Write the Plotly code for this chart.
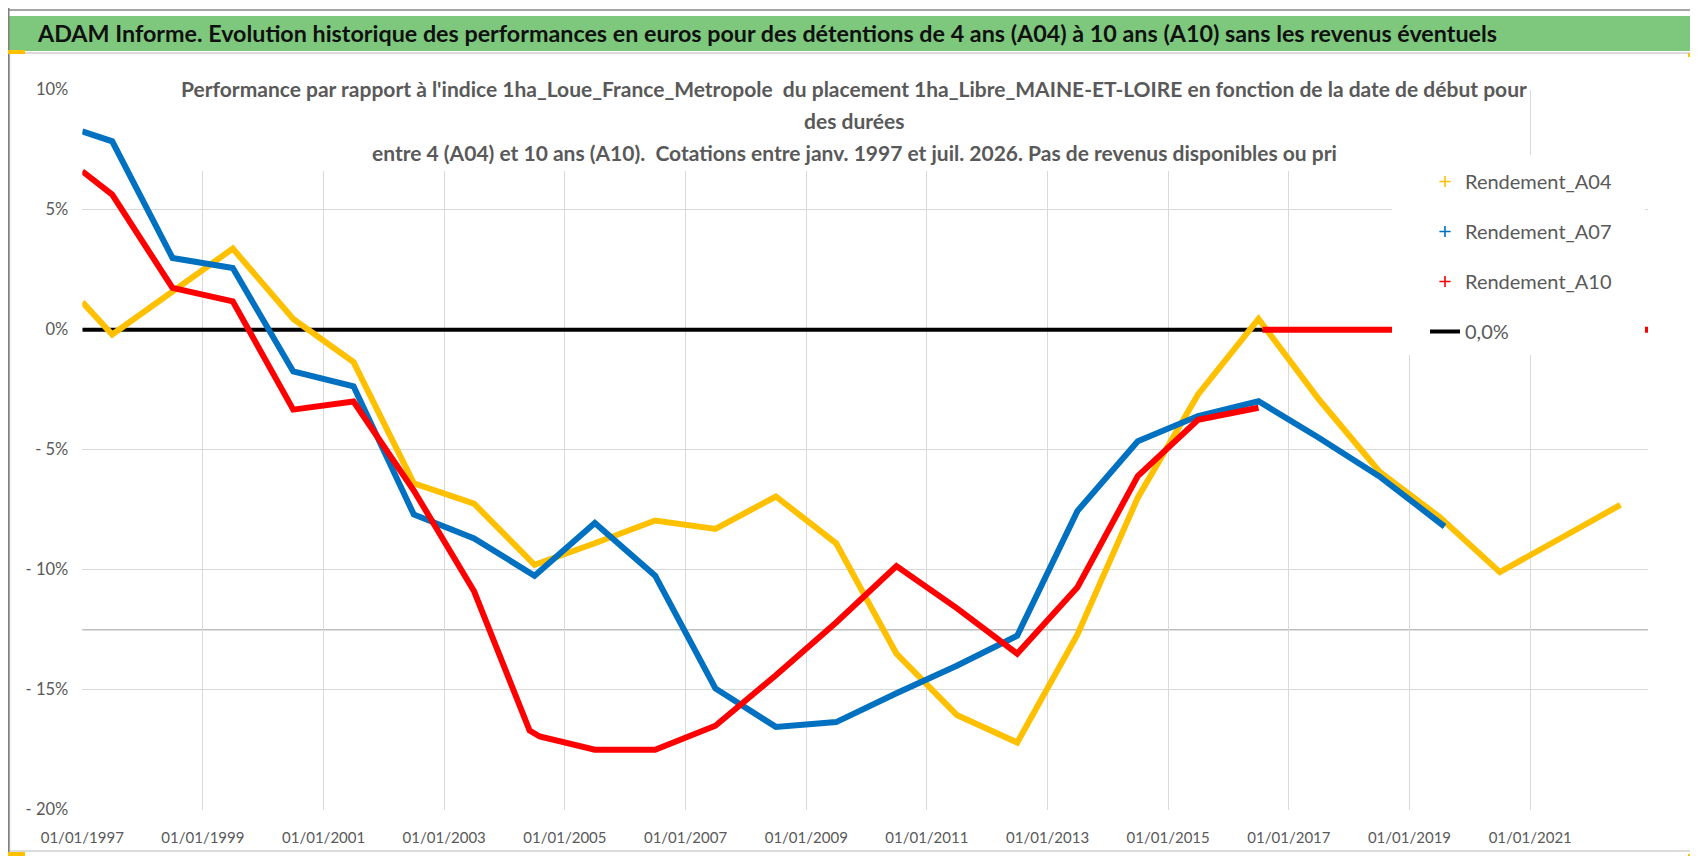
import plotly.graph_objects as go

# Rendement sur 4 ans (A04), en %
dates_a04 = ['1997-01-01', '1997-07-01', '1999-07-01', '2000-07-01', '2001-07-01', '2002-07-01',
             '2003-07-01', '2004-07-01', '2005-07-01', '2006-07-01', '2007-07-01', '2008-07-01',
             '2009-07-01', '2010-07-01', '2011-07-01', '2012-07-01', '2013-07-01', '2014-07-01',
             '2015-07-01', '2016-07-01', '2017-07-01', '2018-07-01', '2019-07-01', '2020-07-01',
             '2021-07-01', '2022-07-01']
rendement_a04 = [1.15, -0.2, 3.38, 0.45, -1.35, -6.4,
                 -7.25, -9.8, -8.9, -7.95, -8.3, -6.95,
                 -8.9, -13.5, -16.05, -17.2, -12.7, -7.0,
                 -2.7, 0.45, -2.9, -5.9, -7.8, -10.1,
                 -8.7, -7.3]

# Rendement sur 7 ans (A07)
dates_a07 = ['1997-01-01', '1997-07-01', '1998-07-01', '1999-07-01', '2000-07-01', '2001-07-01',
             '2002-07-01', '2003-07-01', '2004-07-01', '2005-07-01', '2006-07-01', '2007-07-01',
             '2008-07-01', '2009-07-01', '2010-07-01', '2011-07-01', '2012-07-01', '2013-07-01',
             '2014-07-01', '2015-07-01', '2016-07-01', '2017-07-01', '2018-07-01', '2019-08-01']
rendement_a07 = [8.26, 7.85, 2.99, 2.57, -1.74, -2.36,
                 -7.7, -8.7, -10.25, -8.05, -10.25, -14.95,
                 -16.55, -16.35, -15.15, -14.0, -12.75, -7.55,
                 -4.65, -3.6, -2.98, -4.5, -6.1, -8.2]

# Rendement sur 10 ans (A10) : valeurs nulles apres mi-2016
dates_a10 = ['1997-01-01', '1997-07-01', '1998-07-01', '1999-07-01', '2000-07-01', '2001-07-01',
             '2002-07-01', '2003-07-01', '2004-06-01', '2004-08-01', '2005-07-01', '2006-07-01',
             '2007-07-01', '2008-07-01', '2009-07-01', '2010-07-01', '2011-07-01', '2012-07-01',
             '2013-07-01', '2014-07-01', '2015-07-01', '2016-07-01', '2016-07-15', '2016-07-25',
             '2022-12-15']
rendement_a10 = [6.6, 5.63, 1.74, 1.18, -3.33, -2.99,
                 -6.7, -10.9, -16.7, -16.95, -17.5, -17.5,
                 -16.5, -14.4, -12.2, -9.85, -11.6, -13.5,
                 -10.73, -6.1, -3.75, -3.25, None, 0.0,
                 0.0]

# Ligne de reference 0,0%
dates_zero = ['1997-01-01', '2022-12-15']
niveau_zero = [0.0, 0.0]

noms = ['Rendement_A04', 'Rendement_A07', 'Rendement_A10']
couleurs = ['#FFC000', '#0070C0', '#FF0000']

y_ticks = [10, 5, 0, -5, -10, -15, -20]
y_labels = ['10%', '5%', '0%', '- 5%', '- 10%', '- 15%', '- 20%']

titre = ("ADAM Informe. Evolution historique des performances en euros pour des détentions "
         "de 4 ans (A04) à 10 ans (A10) sans les revenus éventuels")
sous_titre = ["Performance par rapport à l'indice 1ha_Loue_France_Metropole  du placement "
              "1ha_Libre_MAINE-ET-LOIRE en fonction de la date de début pour",
              "des durées",
              "entre 4 (A04) et 10 ans (A10).  Cotations entre janv. 1997 et juil. 2026. "
              "Pas de revenus disponibles ou pri"]

W, H = 1698, 856
FONT = 'Lato, Carlito, Calibri, sans-serif'
GRIS = '#595959'


def px_x(v):
    return v / W


def px_y(v):
    return 1 - v / H


fig = go.Figure()

# ligne 0% d'abord, les rendements passent par-dessus
fig.add_trace(go.Scatter(x=dates_zero, y=niveau_zero, mode='lines',
                         line=dict(color='black', width=4), showlegend=False, hoverinfo='skip'))
for dates, vals, col in zip([dates_a04, dates_a07, dates_a10],
                            [rendement_a04, rendement_a07, rendement_a10], couleurs):
    fig.add_trace(go.Scatter(x=dates, y=vals, mode='lines', connectgaps=False,
                             line=dict(color=col, width=6), showlegend=False))

# entrees de legende (croix comme dans Excel)
for nom, col in zip(noms, couleurs):
    fig.add_trace(go.Scatter(x=[None], y=[None], mode='markers', name=nom, legendgroup=nom,
                             marker=dict(symbol='cross-thin', size=8, line=dict(width=1.6, color=col))))
fig.add_trace(go.Scatter(x=[None], y=[None], mode='lines', name='0,0%', legendgroup='zero',
                         line=dict(color='black', width=4)))

x0, x1 = 74.3, 1640
y_top, y_bot = 81.7, 801.7

fig.update_layout(
    width=W, height=H,
    margin=dict(l=0, r=0, t=0, b=0, autoexpand=False),
    paper_bgcolor='white', plot_bgcolor='white',
    font=dict(family=FONT, color=GRIS),
    legend=dict(x=px_x(1417), y=px_y(154), xanchor='left', yanchor='top',
                bgcolor='white', font=dict(size=20, color=GRIS),
                tracegroupgap=21, itemwidth=30),
    xaxis=dict(type='date', domain=[px_x(x0), px_x(x1)], range=['1997-01-01', '2022-12-15'],
               tick0='1997-01-01', dtick='M24', tickformat='%d/%m/%Y', automargin=False,
               showgrid=True, gridcolor='#D9D9D9', gridwidth=1.3,
               showline=False, zeroline=False, ticks='',
               tickfont=dict(size=15, color=GRIS), ticklabelstandoff=17),
    yaxis=dict(domain=[px_y(y_bot), px_y(y_top)], range=[-20, 10], automargin=False,
               tickvals=y_ticks, ticktext=y_labels,
               showgrid=True, gridcolor='#D9D9D9', gridwidth=1.3,
               showline=False, zeroline=False, ticks='',
               tickfont=dict(size=16.5, color=GRIS), ticklabelstandoff=13),
)

shapes = [
    # bandeau vert du titre
    dict(type='rect', xref='paper', yref='paper', x0=0, x1=1, y0=px_y(43), y1=px_y(8),
         fillcolor='#7DC87D', line=dict(width=0), layer='below'),
    dict(type='line', xref='paper', yref='paper', x0=0, x1=1, y0=px_y(2), y1=px_y(2),
         line=dict(color='#A6A6A6', width=2), layer='below'),
    # cadre de la zone graphique
    dict(type='rect', xref='paper', yref='paper', x0=px_x(1.5), x1=px_x(1688), y0=px_y(843), y1=px_y(45),
         fillcolor='rgba(0,0,0,0)', line=dict(color='#D0D0D0', width=1.5), layer='below'),
    dict(type='line', xref='paper', yref='paper', x0=0, x1=0, y0=0, y1=1,
         line=dict(color='#7F7F7F', width=3), layer='below'),
    dict(type='line', xref='paper', yref='paper', x0=0, x1=1, y0=0, y1=0,
         line=dict(color='#7F7F7F', width=3), layer='below'),
    # trait gris a -12,5%
    dict(type='line', xref='x domain', yref='y', x0=0, x1=1, y0=-12.5, y1=-12.5,
         line=dict(color='#BDBDBD', width=1.6), layer='below'),
    # masque blanc sous le titre du graphique (aucune courbe ne passe ici)
    dict(type='rect', xref='paper', yref='paper', x0=px_x(185), x1=px_x(1507), y0=px_y(163), y1=px_y(62),
         fillcolor='white', line=dict(width=0), layer='above'),
    # fond blanc de la legende
    dict(type='rect', xref='paper', yref='paper', x0=px_x(1384), x1=px_x(1637), y0=px_y(347), y1=px_y(147),
         fillcolor='white', line=dict(width=0), layer='above'),
    # poignees jaunes de selection Excel
    dict(type='rect', xref='paper', yref='paper', x0=0, x1=px_x(17), y0=px_y(46), y1=px_y(42),
         fillcolor='#FFC000', line=dict(width=0)),
    dict(type='rect', xref='paper', yref='paper', x0=0, x1=px_x(17), y0=px_y(849), y1=px_y(844),
         fillcolor='#FFC000', line=dict(width=0)),
    dict(type='rect', xref='paper', yref='paper', x0=px_x(1680), x1=px_x(1697), y0=px_y(49), y1=px_y(45),
         fillcolor='#FFC000', line=dict(width=0)),
    dict(type='rect', xref='paper', yref='paper', x0=px_x(1693), x1=px_x(1697), y0=px_y(58), y1=px_y(45),
         fillcolor='#FFC000', line=dict(width=0)),
    dict(type='rect', xref='paper', yref='paper', x0=px_x(1692), x1=px_x(1697), y0=px_y(850), y1=px_y(800),
         fillcolor='#FFC000', line=dict(width=0)),
    dict(type='rect', xref='paper', yref='paper', x0=px_x(1680), x1=px_x(1697), y0=px_y(850), y1=px_y(846),
         fillcolor='#FFC000', line=dict(width=0)),
]
fig.update_layout(shapes=shapes)

annotations = [
    dict(text='<b>' + titre + '</b>', xref='paper', yref='paper', x=px_x(27), y=px_y(25),
         xanchor='left', yanchor='middle', showarrow=False,
         font=dict(family=FONT, size=23.3, color='#111111')),
]
for i, ligne in enumerate(sous_titre):
    annotations.append(dict(text='<b>' + ligne + '</b>', xref='paper', yref='paper',
                            x=px_x(846), y=px_y([80, 113, 145][i]), xanchor='center', yanchor='middle',
                            showarrow=False, font=dict(family=FONT, size=21, color=GRIS)))
fig.update_layout(annotations=annotations)

fig.write_html("out.html")
